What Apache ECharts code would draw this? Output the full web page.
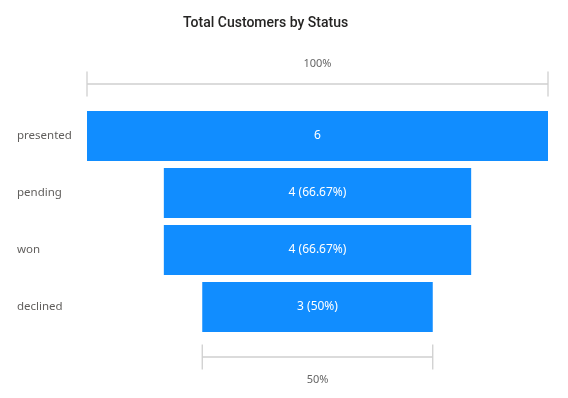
<!DOCTYPE html>
<html>
<head>
<meta charset="utf-8">
<script src="https://cdn.jsdelivr.net/npm/echarts@6/dist/echarts.min.js"></script>
<style>html,body{margin:0;padding:0;background:#fff}#c{width:568px;height:398px}</style>
</head>
<body>
<div id="c"></div>
<script>
const categories = ['presented', 'pending', 'won', 'declined'];
const values = [6, 4, 4, 3];
const titleText = 'Total Customers by Status';

const maxV = Math.max.apply(null, values);
const first = values[0];
const last = values[values.length - 1];
const offsets = values.map(v => (maxV - v) / 2);
const pctText = v => {
  const p = Math.round(v / first * 10000) / 100;
  return p + '%';
};

const chart = echarts.init(document.getElementById('c'), null, {renderer: 'canvas'});

function bracketRender(params, api) {
  const idx = api.value(0);
  const v = api.value(1);
  const cat = categories[idx];
  const left = api.coord([(maxV - v) / 2, cat]);
  const right = api.coord([(maxV + v) / 2, cat]);
  const band = api.size([0, 1])[1];
  const isTop = idx === 0;
  const y = isTop ? left[1] - band / 2 - 23.5 : left[1] + band / 2 + 21.5;
  const ly = isTop ? y - 20 : y + 23;
  const stroke = {stroke: '#cfcfcf', lineWidth: 1.3};
  return {
    type: 'group',
    children: [
      {type: 'line', shape: {x1: left[0], y1: y, x2: right[0], y2: y}, style: stroke},
      {type: 'line', shape: {x1: left[0], y1: y - 12.5, x2: left[0], y2: y + 12.5}, style: stroke},
      {type: 'line', shape: {x1: right[0], y1: y - 12.5, x2: right[0], y2: y + 12.5}, style: stroke},
      {type: 'text', style: {x: (left[0] + right[0]) / 2, y: ly, text: pctText(v), fill: '#666666',
        font: '11px "Noto Sans", sans-serif', align: 'center', verticalAlign: 'middle'}}
    ]
  };
}

chart.setOption({
  animation: false,
  title: {
    text: titleText,
    left: 178, top: 11,
    textStyle: {fontFamily: 'Roboto, "DejaVu Sans", sans-serif', fontSize: 14, fontWeight: 500, color: '#252423'}
  },
  grid: {left: 87, right: 20, top: 107.5, height: 228},
  xAxis: {type: 'value', min: 0, max: maxV, show: false},
  yAxis: {
    type: 'category', data: categories, inverse: true,
    axisLine: {show: false}, axisTick: {show: false},
    axisLabel: {align: 'left', margin: 70, color: '#605e5c', fontSize: 11.5, fontFamily: '"Noto Sans", sans-serif'}
  },
  series: [
    {type: 'bar', stack: 'f', data: offsets, itemStyle: {color: 'transparent'}, barWidth: 50, silent: true},
    {type: 'bar', stack: 'f', data: values, barWidth: 50, itemStyle: {color: '#118DFF'},
      label: {show: true, position: 'inside', color: '#ffffff', fontSize: 12, fontFamily: '"Noto Sans", sans-serif',
        formatter: p => p.dataIndex === 0 ? String(p.value) : p.value + ' (' + pctText(p.value) + ')'}},
    {type: 'custom', renderItem: bracketRender, clip: false, silent: true,
      data: [[0, first], [values.length - 1, last]], encode: {x: 1, y: 0}}
  ]
});
</script>
</body>
</html>
